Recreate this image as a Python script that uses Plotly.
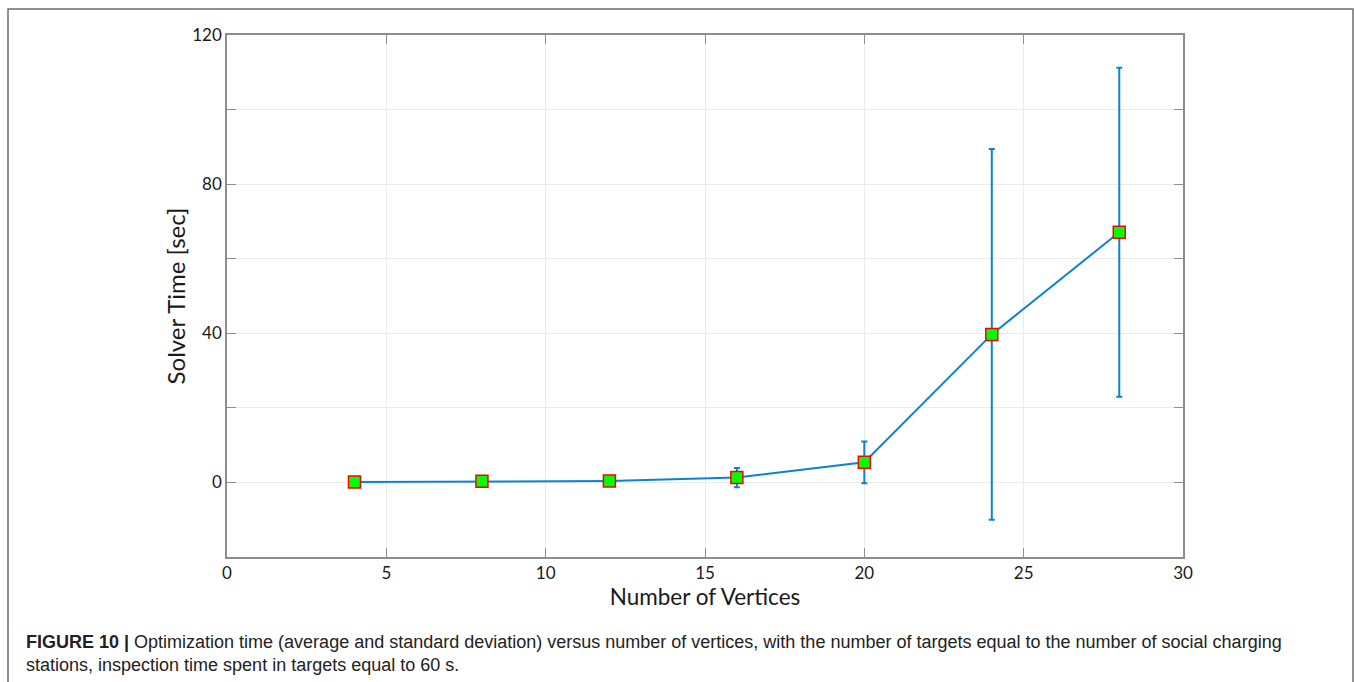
import plotly.graph_objects as go

vertices = [4, 8, 12, 16, 20, 24, 28]
mean_time = [0.1, 0.3, 0.4, 1.3, 5.4, 39.7, 67.1]
std_time = [0.1, 0.2, 0.3, 2.6, 5.6, 49.7, 44.1]

y_tickvals = [-20, 0, 20, 40, 60, 80, 100, 120]
y_ticktext = ["", "0", "", "40", "", "80", "", "120"]
x_tickvals = [0, 5, 10, 15, 20, 25, 30]

line_color = "#0a84d0"
axis_font = "Lato, 'Open Sans', sans-serif"

fig = go.Figure()
fig.add_trace(go.Scatter(
    x=vertices, y=mean_time,
    mode="lines+markers",
    line=dict(color=line_color, width=2),
    marker=dict(symbol="square", size=12, color="#00ff00",
                line=dict(color="#ff0000", width=1.5)),
    error_y=dict(type="data", array=std_time, visible=True,
                 color=line_color, thickness=2, width=3),
    showlegend=False,
))

fig.update_xaxes(
    range=[0, 30], tickvals=x_tickvals,
    showline=True, linecolor="#8c8c8c", linewidth=1.5, mirror="ticks",
    ticks="inside", ticklen=9, tickcolor="#8c8c8c",
    showgrid=True, gridcolor="#ebebeb", gridwidth=1, zeroline=False,
    tickfont=dict(family=axis_font, size=17, color="#1a1a1a"),
    title=dict(text="Number of Vertices", standoff=0,
               font=dict(family=axis_font, size=22.5, color="#1a1a1a")),
)
fig.update_yaxes(
    range=[-20, 120], tickvals=y_tickvals, ticktext=y_ticktext,
    showline=True, linecolor="#8c8c8c", linewidth=1.5, mirror="ticks",
    ticks="inside", ticklen=9, tickcolor="#8c8c8c",
    showgrid=True, gridcolor="#ebebeb", gridwidth=1, zeroline=False,
    tickfont=dict(family=axis_font, size=17, color="#1a1a1a"),
    title=dict(text="Solver Time [sec]", standoff=0,
               font=dict(family=axis_font, size=24, color="#1a1a1a")),
)

W, H = 1354, 682
L, R, T, B = 227, 171, 35, 125
pw, ph = W - L - R, H - T - B

def px_x(p):
    return (p - L) / pw

def px_y(p):
    return (H - B - p) / ph

fig.add_shape(type="rect", xref="paper", yref="paper",
              x0=px_x(8), x1=px_x(1353), y0=px_y(700), y1=px_y(9),
              line=dict(color="#6e6e6e", width=1.5), fillcolor="rgba(0,0,0,0)",
              layer="below")

caption = ("<b>FIGURE 10 |</b> Optimization time (average and standard deviation) versus number of vertices, "
           "with the number of targets equal to the number of social charging<br>"
           "stations, inspection time spent in targets equal to 60 s.")
fig.add_annotation(xref="paper", yref="paper", x=px_x(24), y=px_y(630),
                   xanchor="left", yanchor="top", align="left", showarrow=False,
                   text=caption,
                   font=dict(family="'Liberation Sans', Arial, sans-serif",
                             size=18, color="#222222"))

fig.update_layout(
    width=W, height=H,
    margin=dict(l=L, r=R, t=T, b=B),
    paper_bgcolor="white", plot_bgcolor="white",
)

fig.write_html("out.html")
